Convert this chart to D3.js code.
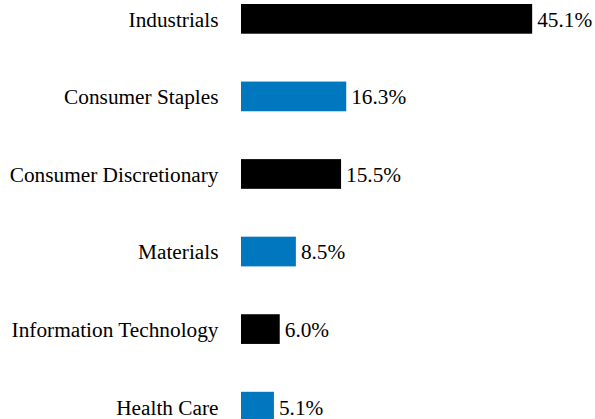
<!DOCTYPE html>
<html>
<head>
<meta charset="utf-8">
<script src="https://cdn.jsdelivr.net/npm/d3@7"></script>
<style>
  html, body { margin: 0; padding: 0; background: #fff; }
  svg { display: block; }
</style>
</head>
<body>
<script>
const categories = ["Industrials", "Consumer Staples", "Consumer Discretionary", "Materials", "Information Technology", "Health Care"];
const values = [45.1, 16.3, 15.5, 8.5, 6.0, 5.1];
const valueLabels = ["45.1%", "16.3%", "15.5%", "8.5%", "6.0%", "5.1%"];
const colors = ["#000000", "#0077BF"];

const FONT = "'Times New Roman', 'Liberation Serif', Tinos, serif";
const W = 595, H = 419;
const svg = d3.select("body").append("svg").attr("width", W).attr("height", H);

const y = d3.scaleBand().domain(categories).range([4, 421.5]).paddingInner(0.617).paddingOuter(0).align(0);
const x = d3.scaleLinear().domain([0, 50]).range([241, 563.8]);

const data = categories.map((c, i) => ({ c, v: values[i], l: valueLabels[i], i }));

svg.selectAll("rect.bar").data(data).join("rect")
  .attr("class", "bar")
  .attr("x", x(0))
  .attr("y", d => y(d.c))
  .attr("width", d => x(d.v) - x(0))
  .attr("height", y.bandwidth())
  .attr("fill", d => colors[d.i % 2]);

svg.selectAll("text.cat").data(data).join("text")
  .attr("class", "cat")
  .attr("x", 218.5)
  .attr("y", d => y(d.c) + y.bandwidth() / 2)
  .attr("dy", "0.37em")
  .attr("text-anchor", "end")
  .attr("font-family", FONT)
  .attr("font-size", "21.3px")
  .attr("fill", "#000")
  .text(d => d.c);

svg.selectAll("text.val").data(data).join("text")
  .attr("class", "val")
  .attr("x", d => x(d.v) + 5)
  .attr("y", d => y(d.c) + y.bandwidth() / 2)
  .attr("dy", "0.37em")
  .attr("text-anchor", "start")
  .attr("font-family", FONT)
  .attr("font-size", "21.3px")
  .attr("fill", "#000")
  .text(d => d.l);
</script>
</body>
</html>
